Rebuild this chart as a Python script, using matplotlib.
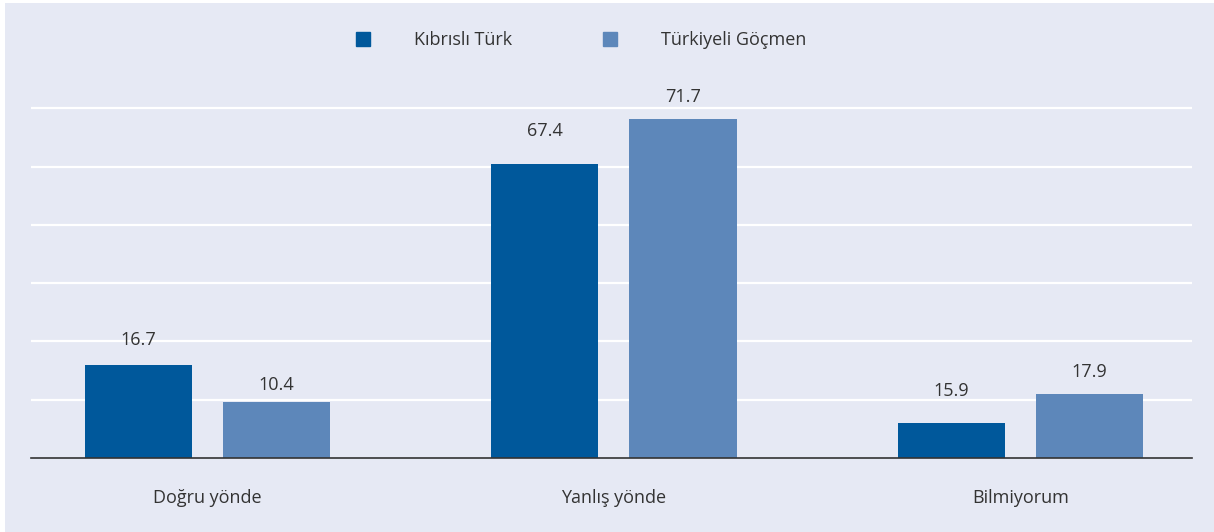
import numpy as np
import matplotlib.pyplot as plt
from matplotlib.lines import Line2D

plt.rcParams['font.family'] = ['Open Sans', 'DejaVu Sans']

categories = ['Doğru yönde', 'Yanlış yönde', 'Bilmiyorum']
series = ['Kıbrıslı Türk', 'Türkiyeli Göçmen']

# printed values
kibrisli_labels = [16.7, 67.4, 15.9]
gocmen_labels = [10.4, 71.7, 17.9]

# drawn bar heights as they appear in the picture (grid every 10)
kibrisli_heights = [16.0, 50.4, 6.0]
gocmen_heights = [9.6, 58.1, 11.0]

# label gap above each bar, px
kibrisli_pad = [25, 33, 32]
gocmen_pad = [17, 22, 22]

bg = '#e6e9f4'
dark = '#00589b'
light = '#5d87ba'
txt = '#333333'

fig = plt.figure(figsize=(12.14, 5.32), dpi=100)
fig.patch.set_facecolor('white')
fig.add_artist(plt.Rectangle((5 / 1214, 0), 1, 1 - 3 / 532, transform=fig.transFigure,
                             facecolor=bg, edgecolor='none', zorder=0))

ax = fig.add_axes([31 / 1214, 74 / 532, 1161 / 1214, 362 / 532])
ax.set_facecolor(bg)

x = np.arange(len(categories))
w = 0.264
off = 0.17
b1 = ax.bar(x - off, kibrisli_heights, w, color=dark, zorder=3)
b2 = ax.bar(x + off, gocmen_heights, w, color=light, zorder=3)

for bars, labels, pads in [(b1, kibrisli_labels, kibrisli_pad), (b2, gocmen_labels, gocmen_pad)]:
    for rect, lab, p in zip(bars, labels, pads):
        ax.annotate(f'{lab:.1f}', (rect.get_x() + rect.get_width() / 2, rect.get_height()),
                    xytext=(0, p * 0.72), textcoords='offset points',
                    ha='center', va='center', fontsize=13, color=txt)

ax.set_xlim(-0.434, 2.422)
ax.set_ylim(0, 62.1)
ax.set_yticks([10, 20, 30, 40, 50, 60])
ax.yaxis.grid(True, color='white', linewidth=1.6, zorder=1)
ax.tick_params(axis='y', left=False, labelleft=False)
ax.set_xticks(x)
ax.set_xticklabels(categories, fontsize=13, color=txt)
ax.tick_params(axis='x', length=0, pad=22)
for s in ['top', 'right', 'left']:
    ax.spines[s].set_visible(False)
ax.spines['bottom'].set_color('#333333')
ax.spines['bottom'].set_linewidth(1.2)
ax.spines['bottom'].set_zorder(4)

handles = [Line2D([], [], marker='s', linestyle='none', markersize=10, color=dark),
           Line2D([], [], marker='s', linestyle='none', markersize=10, color=light)]
leg = fig.legend(handles, series, loc='center', bbox_to_anchor=(580 / 1214, 1 - 40 / 532),
                 ncol=2, frameon=False, fontsize=13, handlelength=1, handletextpad=2.35,
                 columnspacing=4.9, labelcolor=txt)

fig.savefig('out.png', dpi=100)
